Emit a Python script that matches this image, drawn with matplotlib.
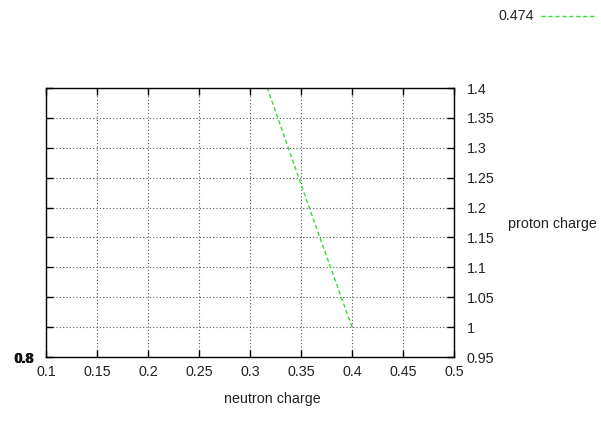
import matplotlib
matplotlib.use("Agg")
import matplotlib.pyplot as plt
from matplotlib.lines import Line2D

plt.rcParams['font.family'] = ['Liberation Sans', 'DejaVu Sans']

# contour level 0.474
neutron = [0.400, 0.358, 0.317]
proton = [1.00, 1.20, 1.40]
level_label = "0.474"

xticks = [0.1, 0.15, 0.2, 0.25, 0.3, 0.35, 0.4, 0.45, 0.5]
yticks = [0.95, 1.0, 1.05, 1.1, 1.15, 1.2, 1.25, 1.3, 1.35, 1.4]
xticklabels = ["0.1", "0.15", "0.2", "0.25", "0.3", "0.35", "0.4", "0.45", "0.5"]
yticklabels = ["0.95", "1", "1.05", "1.1", "1.15", "1.2", "1.25", "1.3", "1.35", "1.4"]

W, H = 601, 436
fig = plt.figure(figsize=(W/100, H/100), dpi=100)
left, right, top, bottom = 46, 454, 88, 357
ax = fig.add_axes([left/W, 1-bottom/H, (right-left)/W, (bottom-top)/H])

ax.plot(neutron, proton, color='#33dd33', lw=1.0, linestyle=(0, (3, 2)))
ax.set_xlim(0.1, 0.5)
ax.set_ylim(0.95, 1.4)
ax.set_xticks(xticks)
ax.set_xticklabels(xticklabels, fontsize=10.3)
ax.set_yticks(yticks)
ax.set_yticklabels(yticklabels, fontsize=10.3)
ax.yaxis.tick_right()
ax.tick_params(axis='both', direction='in', length=5, width=1, colors='black',
               top=True, bottom=True, left=True, right=True)
ax.tick_params(axis='x', pad=6, labelcolor='#222222')
ax.tick_params(axis='y', pad=9, labelcolor='#222222')
ax.grid(True, color='#555555', linestyle=(0, (1, 2)), linewidth=0.8)
for s in ax.spines.values():
    s.set_linewidth(1.0)
    s.set_color('black')

fig.text(508/W, 1-224/H, "proton charge", fontsize=10.3, ha='left', va='center', color='#222222')
fig.text(272/W, 1-399/H, "neutron charge", fontsize=10.3, ha='center', va='center', color='#222222')
fig.text(13/W, 1-359/H, "0.8", fontsize=10.3, ha='left', va='center', fontweight='bold', color='#111111')
fig.text(14/W, 1-359/H, "0.8", fontsize=10.3, ha='left', va='center', fontweight='bold', color='#111111')

fig.text(534/W, 1-16/H, level_label, fontsize=10.3, ha='right', va='center', color='#222222')
fig.add_artist(Line2D([541/W, 595/W], [1-16/H, 1-16/H], color='#33dd33', lw=1.0,
                      linestyle=(0, (3, 2)), transform=fig.transFigure))

fig.savefig("out.png", dpi=100)
